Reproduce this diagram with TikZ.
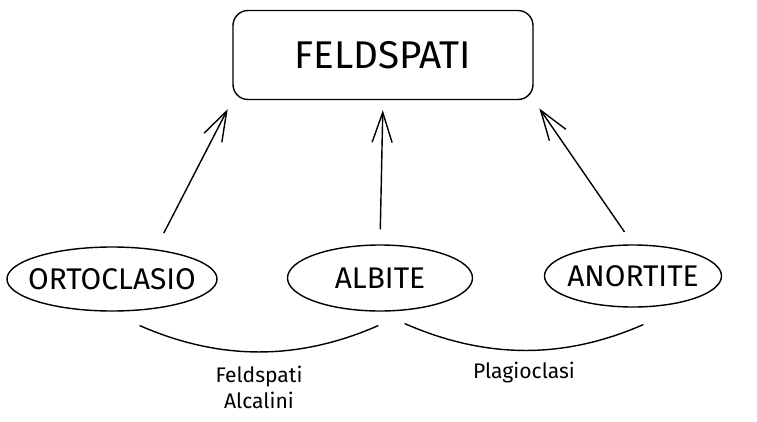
\documentclass[tikz,border=0pt]{standalone}
\usepackage{fontspec}
\setmainfont{Fira Sans}
\usepackage{tikz}
\usetikzlibrary{positioning,arrows.meta,shapes.geometric}

\begin{document}
\begin{tikzpicture}[
  line width=0.8pt,
  box/.style={draw, rounded corners=3mm, align=center, minimum width=6cm, minimum height=1.78cm, font=\fontsize{22}{26}\selectfont},
  oval/.style={draw, ellipse, inner sep=0pt, font=\fontsize{17}{20}\selectfont},
  arrow/.style={-{Straight Barb[length=6mm,width=4mm]}, shorten <=3mm, shorten >=2mm},
  brace/.style={line cap=round},
  note/.style={align=center, font=\fontsize{12}{15}\selectfont}
]
\useasboundingbox (0,0) rectangle (15.14,-8.42);

\node[box] (feld) at (7.66,-1.1) {FELDSPATI};
\node[oval, inner xsep=-7pt, minimum width=4.2cm, minimum height=1.28cm] (orto) at (2.24,-5.58) {ORTOCLASIO};
\node[oval, minimum width=3.7cm, minimum height=1.32cm] (albite) at (7.6,-5.56) {ALBITE};
\node[oval, inner xsep=-3pt, minimum width=3.54cm, minimum height=1.24cm] (anort) at (12.66,-5.52) {ANORTITE};

\draw[arrow] ([xshift=9mm]orto.north) -- (feld.south west);
\draw[arrow] (albite.north) -- (feld.south);
\draw[arrow] (anort.north) -- (feld.south east);

% braces under the minerals
\coordinate (alk-a) at ([xshift=5.6mm,yshift=-2.8mm]orto.south);
\coordinate (alk-b) at ([xshift=-0.4mm,yshift=-2.8mm]albite.south);
\coordinate (plag-a) at ([xshift=5mm,yshift=-2.4mm]albite.south);
\coordinate (plag-b) at ([xshift=2mm,yshift=-3.4mm]anort.south);

\draw[brace] (alk-a) .. controls +(1.6,-0.7) and +(-1.6,-0.7) .. (alk-b)
  node[pos=0.5, note, below=1.5mm] (alk) {Feldspati\\Alcalini};
\draw[brace] (plag-a) .. controls +(1.6,-0.7) and +(-1.6,-0.7) .. (plag-b)
  node[pos=0.5, note, below=1mm] (plag) {Plagioclasi};

\end{tikzpicture}
\end{document}
